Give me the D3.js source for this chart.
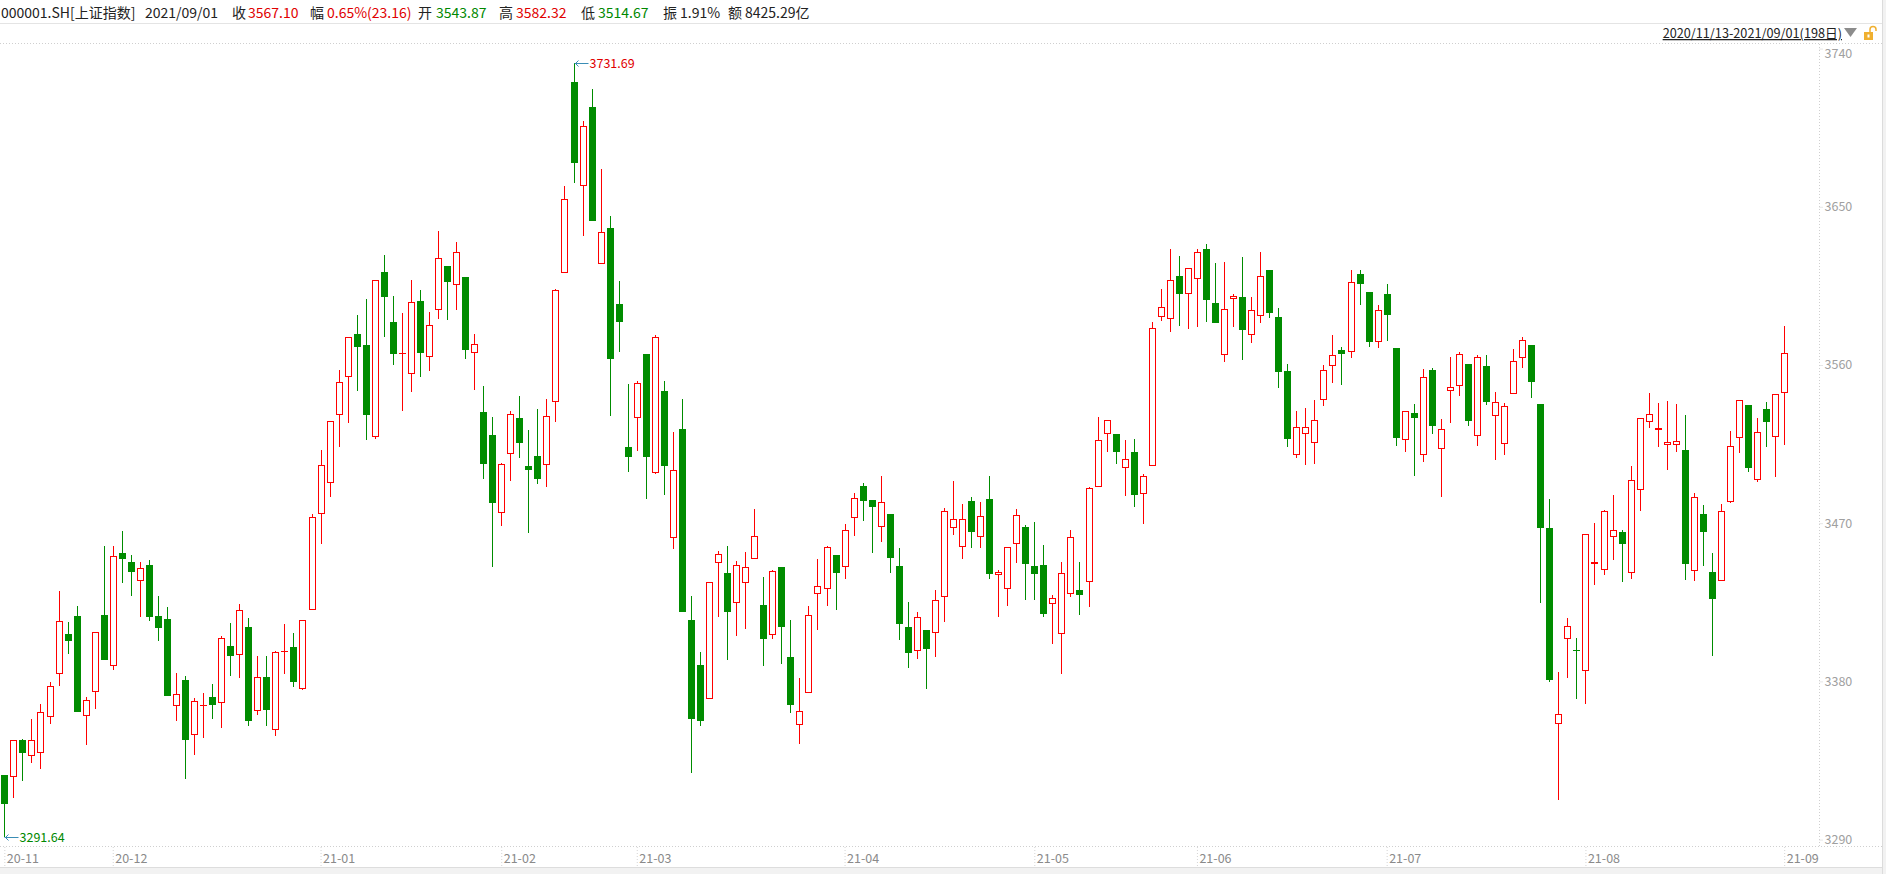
<!DOCTYPE html>
<html>
<head>
<meta charset="utf-8">
<script src="https://cdn.jsdelivr.net/npm/d3@7"></script>
<style>
  body { margin: 0; background: #fff; }
  svg { display: block; font-family: "Microsoft YaHei", "Noto Sans CJK SC", sans-serif; }
</style>
</head>
<body>
<div id="chart"></div>
<script>
// Daily candles, 2020/11/13 - 2021/09/01 (198 trading days)
// ================================
var openPrices = [
  3326.8, 3325.4, 3346.7, 3337.6, 3339.1, 3359.6, 3384.1, 3407.1, 3417.3, 3360.2,
  3373.8, 3417.9, 3389.0, 3453.2, 3448.1, 3437.0, 3446.3, 3417.3, 3415.6, 3365.9,
  3380.9, 3349.3, 3366.0, 3371.2, 3367.6, 3400.2, 3395.1, 3411.1, 3363.3, 3382.6,
  3352.5, 3397.0, 3399.8, 3375.8, 3420.8, 3475.1, 3492.7, 3531.3, 3553.4, 3577.8,
  3571.2, 3518.8, 3613.0, 3584.6, 3566.2, 3555.1, 3596.2, 3564.7, 3591.4, 3616.6,
  3605.6, 3610.0, 3567.1, 3533.4, 3520.2, 3476.0, 3509.5, 3529.9, 3502.5, 3508.2,
  3503.3, 3539.0, 3612.2, 3721.0, 3661.7, 3706.5, 3617.2, 3637.9, 3594.5, 3513.3,
  3530.1, 3566.0, 3498.8, 3545.4, 3461.8, 3523.7, 3414.9, 3389.1, 3369.8, 3447.2,
  3441.7, 3424.4, 3435.8, 3449.4, 3423.3, 3406.2, 3444.9, 3393.7, 3355.0, 3373.2,
  3429.5, 3432.4, 3451.7, 3444.9, 3472.8, 3491.2, 3483.2, 3467.6, 3475.2, 3445.6,
  3410.9, 3397.1, 3409.1, 3407.5, 3428.0, 3467.1, 3456.3, 3482.6, 3462.0, 3483.8,
  3440.4, 3432.4, 3458.0, 3467.7, 3445.7, 3446.2, 3423.9, 3406.8, 3429.6, 3431.8,
  3436.4, 3490.4, 3520.6, 3520.6, 3501.2, 3510.3, 3486.4, 3502.4, 3587.1, 3586.0,
  3610.4, 3600.2, 3608.7, 3626.0, 3595.3, 3565.5, 3597.4, 3598.7, 3576.9, 3587.7,
  3614.0, 3587.3, 3556.6, 3508.6, 3520.6, 3515.4, 3539.9, 3559.2, 3568.3, 3567.2,
  3611.8, 3601.5, 3572.9, 3600.4, 3569.7, 3517.1, 3532.7, 3508.6, 3557.1, 3512.0,
  3545.0, 3547.8, 3560.6, 3519.4, 3559.4, 3530.8, 3514.9, 3543.3, 3563.8, 3571.2,
  3537.8, 3467.3, 3355.8, 3403.9, 3397.9, 3385.7, 3446.6, 3443.2, 3462.0, 3464.8,
  3441.9, 3488.7, 3527.4, 3522.8, 3514.3, 3514.3, 3511.5, 3442.6, 3475.1, 3442.1,
  3436.9, 3482.1, 3518.3, 3537.1, 3494.4, 3534.8, 3518.9, 3543.87
];
var highPrices = [
  3326.8, 3346.7, 3347.3, 3358.6, 3367.2, 3379.5, 3431.5, 3413.9, 3423.0, 3371.2,
  3408.0, 3456.8, 3457.2, 3465.7, 3452.0, 3448.1, 3449.2, 3428.7, 3422.4, 3384.8,
  3383.3, 3370.4, 3373.5, 3378.6, 3405.9, 3413.3, 3424.2, 3416.2, 3394.7, 3394.7,
  3397.3, 3412.9, 3407.7, 3414.9, 3475.1, 3511.6, 3528.4, 3557.0, 3576.1, 3588.2,
  3597.7, 3608.4, 3622.3, 3599.0, 3589.3, 3608.4, 3602.9, 3589.9, 3636.0, 3616.6,
  3630.0, 3610.0, 3577.8, 3548.1, 3530.4, 3504.4, 3533.9, 3542.5, 3523.2, 3535.0,
  3540.9, 3603.0, 3662.0, 3731.69, 3699.0, 3716.9, 3671.7, 3644.9, 3607.6, 3549.4,
  3551.0, 3566.0, 3576.8, 3551.0, 3521.8, 3540.9, 3428.6, 3396.7, 3436.3, 3454.2,
  3457.0, 3448.5, 3453.6, 3478.1, 3439.4, 3443.4, 3444.9, 3414.9, 3381.9, 3422.9,
  3449.6, 3457.0, 3451.7, 3469.5, 3487.0, 3492.7, 3483.2, 3497.0, 3475.2, 3455.9,
  3425.2, 3419.5, 3409.1, 3432.0, 3478.6, 3493.8, 3481.0, 3484.9, 3482.1, 3496.9,
  3443.4, 3456.3, 3477.9, 3469.0, 3470.7, 3457.4, 3429.0, 3447.8, 3466.0, 3447.8,
  3490.4, 3530.4, 3528.5, 3520.6, 3517.1, 3517.7, 3498.0, 3584.3, 3603.0, 3626.0,
  3621.8, 3615.0, 3626.0, 3628.8, 3618.0, 3618.6, 3600.4, 3621.4, 3598.7, 3624.3,
  3614.0, 3592.4, 3560.6, 3533.8, 3535.5, 3540.1, 3560.0, 3577.1, 3570.2, 3614.0,
  3614.0, 3601.5, 3594.1, 3606.0, 3569.7, 3533.6, 3537.8, 3557.7, 3558.3, 3529.3,
  3564.5, 3567.4, 3560.6, 3565.5, 3565.7, 3544.6, 3538.2, 3569.1, 3575.9, 3571.2,
  3537.8, 3483.8, 3385.4, 3416.1, 3404.7, 3463.7, 3470.1, 3477.3, 3486.0, 3465.9,
  3502.5, 3529.7, 3544.1, 3538.4, 3539.5, 3537.8, 3531.6, 3487.2, 3480.4, 3452.9,
  3481.0, 3522.3, 3539.9, 3537.1, 3529.7, 3538.8, 3543.3, 3582.32
];
var lowPrices = [
  3291.64, 3313.5, 3323.5, 3333.8, 3330.4, 3356.0, 3377.6, 3395.7, 3362.3, 3343.8,
  3364.5, 3391.9, 3386.7, 3435.7, 3428.7, 3416.9, 3414.1, 3402.7, 3371.9, 3357.7,
  3324.7, 3338.3, 3348.0, 3358.6, 3353.7, 3382.8, 3382.0, 3354.6, 3360.8, 3354.6,
  3348.9, 3384.1, 3376.7, 3375.0, 3420.8, 3457.9, 3485.1, 3513.5, 3527.1, 3545.3,
  3517.5, 3518.0, 3576.0, 3559.8, 3533.9, 3544.7, 3553.2, 3556.6, 3586.1, 3585.5,
  3591.2, 3563.6, 3545.7, 3495.3, 3444.9, 3468.5, 3494.2, 3507.1, 3464.5, 3492.1,
  3490.7, 3527.4, 3612.2, 3663.3, 3633.6, 3642.2, 3617.2, 3530.7, 3567.4, 3499.3,
  3510.8, 3483.8, 3497.7, 3486.2, 3455.4, 3419.2, 3328.1, 3354.8, 3369.8, 3416.8,
  3392.2, 3406.0, 3410.0, 3449.4, 3389.0, 3404.3, 3390.1, 3362.2, 3344.6, 3373.2,
  3409.4, 3423.1, 3420.8, 3438.4, 3462.9, 3471.4, 3453.2, 3459.1, 3441.9, 3403.7,
  3387.8, 3393.0, 3375.5, 3394.1, 3414.0, 3463.5, 3449.8, 3456.1, 3456.1, 3438.5,
  3416.8, 3423.1, 3447.6, 3426.5, 3426.5, 3416.8, 3401.5, 3384.4, 3428.2, 3418.0,
  3422.5, 3490.4, 3510.7, 3503.9, 3485.7, 3479.4, 3469.7, 3502.4, 3585.2, 3579.0,
  3582.4, 3580.7, 3581.8, 3584.6, 3584.1, 3561.9, 3581.8, 3563.0, 3572.7, 3584.1,
  3586.9, 3547.1, 3513.6, 3507.3, 3503.3, 3503.9, 3536.9, 3549.9, 3548.8, 3564.2,
  3594.3, 3570.4, 3569.5, 3573.8, 3514.1, 3510.7, 3497.0, 3504.6, 3520.9, 3484.9,
  3527.2, 3542.5, 3525.5, 3514.1, 3537.2, 3506.1, 3509.0, 3543.3, 3558.5, 3541.4,
  3424.8, 3379.9, 3312.7, 3382.1, 3370.2, 3367.3, 3435.0, 3440.5, 3449.3, 3436.7,
  3438.5, 3477.1, 3524.0, 3513.5, 3500.5, 3510.7, 3437.9, 3437.3, 3445.9, 3394.7,
  3436.9, 3481.3, 3510.1, 3499.3, 3493.4, 3513.2, 3496.5, 3514.67
];
var closePrices = [
  3310.1, 3346.7, 3339.5, 3346.7, 3362.4, 3377.2, 3414.3, 3402.7, 3362.3, 3369.3,
  3408.0, 3391.9, 3451.5, 3449.4, 3442.0, 3444.4, 3416.4, 3410.1, 3371.9, 3372.9,
  3346.9, 3368.9, 3366.6, 3366.8, 3404.8, 3394.7, 3420.8, 3357.6, 3382.6, 3363.7,
  3396.8, 3397.5, 3379.5, 3414.9, 3473.4, 3502.9, 3528.4, 3550.6, 3576.1, 3570.2,
  3531.7, 3608.4, 3598.6, 3566.2, 3566.6, 3596.0, 3566.8, 3582.9, 3620.9, 3607.1,
  3624.3, 3568.5, 3572.2, 3503.9, 3481.6, 3503.6, 3532.3, 3515.9, 3500.4, 3495.3,
  3531.0, 3602.5, 3654.2, 3674.9, 3695.8, 3642.2, 3635.7, 3563.4, 3584.5, 3507.9,
  3549.9, 3507.4, 3575.7, 3502.3, 3500.1, 3419.7, 3358.8, 3357.7, 3436.3, 3452.3,
  3419.7, 3446.0, 3444.9, 3462.5, 3404.3, 3442.6, 3411.1, 3366.8, 3363.0, 3417.6,
  3434.5, 3456.3, 3441.9, 3465.9, 3484.1, 3482.8, 3479.4, 3481.9, 3450.4, 3412.8,
  3396.3, 3416.5, 3398.6, 3426.1, 3476.8, 3472.2, 3472.2, 3465.2, 3473.9, 3441.3,
  3442.1, 3456.3, 3474.5, 3447.0, 3441.3, 3418.6, 3427.3, 3441.5, 3462.0, 3429.4,
  3489.8, 3517.1, 3528.5, 3510.7, 3506.3, 3486.2, 3496.7, 3580.9, 3592.8, 3608.2,
  3600.6, 3615.0, 3624.1, 3597.2, 3584.1, 3591.7, 3599.1, 3580.1, 3591.1, 3610.4,
  3589.8, 3556.2, 3518.1, 3524.9, 3524.5, 3528.5, 3557.0, 3565.5, 3566.4, 3607.0,
  3606.3, 3573.3, 3591.2, 3588.6, 3518.7, 3533.6, 3530.0, 3553.0, 3525.5, 3523.4,
  3547.3, 3566.1, 3528.3, 3564.3, 3539.1, 3538.7, 3536.5, 3562.1, 3574.0, 3550.5,
  3467.5, 3381.0, 3361.3, 3411.3, 3397.1, 3463.7, 3447.7, 3476.7, 3465.9, 3458.4,
  3494.4, 3529.7, 3531.9, 3524.0, 3516.0, 3516.6, 3447.0, 3484.7, 3465.2, 3427.1,
  3476.8, 3513.7, 3539.9, 3501.6, 3521.7, 3527.8, 3543.3, 3567.10
];

var monthTickIndex = [0, 12, 35, 55, 70, 93, 114, 132, 153, 175, 197];
var monthTickLabels = ["20-11", "20-12", "21-01", "21-02", "21-03", "21-04", "21-05", "21-06", "21-07", "21-08", "21-09"];
var priceTicks = [3290, 3380, 3470, 3560, 3650, 3740];

// header line: text pieces and their colours
var headerText = ["000001.SH[上证指数]", "2021/09/01", "收", "3567.10", "幅", "0.65%(23.16)", "开", "3543.87", "高", "3582.32", "低", "3514.67", "振", "1.91%", "额", "8425.29亿"];
var headerColor = ["#222", "#222", "#222", "#e00000", "#222", "#e00000", "#222", "#008800", "#222", "#e00000", "#222", "#008800", "#222", "#222", "#222", "#222"];
var headerX = [1, 145, 232, 248, 310, 327, 418, 436, 499, 516, 581, 598, 663, 680, 728, 745];

var rangeText = "2020/11/13-2021/09/01(198日)";

// Set up the svg
// ================================
var svgWidth = 1886;
var svgHeight = 874;

var upColor = "#ff0000";
var downColor = "#008c00";

var svg = d3.select("#chart")
  .append("svg")
  .attr("width", svgWidth)
  .attr("height", svgHeight);

svg.append("rect")
  .attr("width", svgWidth)
  .attr("height", svgHeight)
  .attr("fill", "#fff");

// header
svg.selectAll(".head")
  .data(headerText)
  .enter()
  .append("text")
  .attr("x", (d, i) => headerX[i])
  .attr("y", 18)
  .attr("font-size", "14px")
  .attr("fill", (d, i) => headerColor[i])
  .text(d => d);

svg.append("line")
  .attr("x1", 0).attr("x2", svgWidth)
  .attr("y1", 23.5).attr("y2", 23.5)
  .attr("stroke", "#e4e4e4");

// range selector top right
svg.append("text")
  .attr("x", 1842)
  .attr("y", 38)
  .attr("text-anchor", "end")
  .attr("font-size", "12.7px")
  .attr("fill", "#222")
  .attr("text-decoration", "underline")
  .text(rangeText);

svg.append("path")
  .attr("d", "M1844,28 L1857,28 L1850.5,37 Z")
  .attr("fill", "#8c8c8c");

var lock = svg.append("g").attr("transform", "translate(1864,27)");
lock.append("rect").attr("x", 0).attr("y", 5).attr("width", 9).attr("height", 8).attr("fill", "#f0b030");
lock.append("rect").attr("x", 3.5).attr("y", 7.5).attr("width", 2).attr("height", 3).attr("fill", "#fff");
lock.append("path")
  .attr("d", "M6,5 L6,2.5 A3,3 0 0 1 12,2.5 L12,4")
  .attr("fill", "none")
  .attr("stroke", "#f0b030")
  .attr("stroke-width", 1.5);

// frame lines
svg.append("line")
  .attr("x1", 0).attr("x2", 1882)
  .attr("y1", 43.5).attr("y2", 43.5)
  .attr("stroke", "#cfcfcf")
  .attr("stroke-dasharray", "1,2");

svg.append("line")
  .attr("x1", 0).attr("x2", 1882)
  .attr("y1", 846.5).attr("y2", 846.5)
  .attr("stroke", "#cfcfcf")
  .attr("stroke-dasharray", "1,2");

svg.append("line")
  .attr("x1", 1819.5).attr("x2", 1819.5)
  .attr("y1", 44).attr("y2", 847)
  .attr("stroke", "#cfcfcf")
  .attr("stroke-dasharray", "1,2");

svg.append("rect")
  .attr("x", 0).attr("y", 868)
  .attr("width", svgWidth).attr("height", 6)
  .attr("fill", "#f2f2f2");
svg.append("line")
  .attr("x1", 0).attr("x2", svgWidth)
  .attr("y1", 867.5).attr("y2", 867.5)
  .attr("stroke", "#dddddd");

svg.append("rect")
  .attr("x", 1883).attr("y", 0)
  .attr("width", 3).attr("height", svgHeight)
  .attr("fill", "#f2f2f2");
svg.append("line")
  .attr("x1", 1882.5).attr("x2", 1882.5)
  .attr("y1", 0).attr("y2", svgHeight)
  .attr("stroke", "#dcdcdc");

// Scales
// ================================
var xScale = d3.scaleLinear()
  .domain([0, openPrices.length - 1])
  .range([4.33, 1784.2]);

var yScale = d3.scaleLinear()
  .domain([3291.64, 3731.69])
  .range([836.7, 63.2]);

// price axis on the right
var rightAxis = d3.axisRight(yScale)
  .tickValues(priceTicks)
  .tickSize(3)
  .tickPadding(2)
  .tickFormat(d3.format("d"));

var priceAxis = svg.append("g")
  .attr("transform", "translate(1819.5,0)")
  .call(rightAxis);

priceAxis.select(".domain").remove();
priceAxis.selectAll(".tick line")
  .attr("stroke", "#cfcfcf")
  .attr("stroke-dasharray", "1,1");
priceAxis.selectAll(".tick text")
  .attr("font-family", "'Microsoft YaHei', 'Noto Sans CJK SC', sans-serif")
  .attr("font-size", "12.5px")
  .attr("fill", "#a0a0a0")
  .attr("dy", (d) => {
    var off = 53 - yScale(d);
    return off > 0 ? (off / 12.5 + 0.32) + "em" : "0.32em";
  });

// month axis at the bottom
var bottomAxis = d3.axisBottom(xScale)
  .tickValues(monthTickIndex)
  .tickSize(20)
  .tickPadding(0)
  .tickFormat((d, i) => monthTickLabels[i]);

var dateAxis = svg.append("g")
  .attr("transform", "translate(0,847)")
  .call(bottomAxis);

dateAxis.select(".domain").remove();
dateAxis.selectAll(".tick line")
  .attr("stroke", "#d4d4d4")
  .attr("stroke-dasharray", "1,2");
dateAxis.selectAll(".tick text")
  .attr("font-family", "'Microsoft YaHei', 'Noto Sans CJK SC', sans-serif")
  .attr("font-size", "12.5px")
  .attr("fill", "#8a8a8a")
  .attr("text-anchor", "start")
  .attr("x", 2)
  .attr("y", 12)
  .attr("dy", "0.32em");

// Candles
// ================================
var chartGroup = svg.append("g").attr("shape-rendering", "crispEdges");

var candle = chartGroup.selectAll(".candle")
  .data(d3.range(openPrices.length))
  .enter()
  .append("g")
  .attr("class", "candle");

function isUp(i) { return closePrices[i] >= openPrices[i]; }
function cx(i) { return Math.round(xScale(i)); }
function bodyTop(i) { return Math.round(yScale(Math.max(openPrices[i], closePrices[i]))); }
function bodyBot(i) { return Math.round(yScale(Math.min(openPrices[i], closePrices[i]))); }

candle.append("line")
  .attr("x1", i => cx(i) + 0.5)
  .attr("x2", i => cx(i) + 0.5)
  .attr("y1", i => Math.round(yScale(highPrices[i])))
  .attr("y2", i => Math.round(yScale(lowPrices[i])))
  .attr("stroke", i => isUp(i) ? upColor : downColor)
  .attr("stroke-width", 1);

candle.filter(i => !isUp(i))
  .append("rect")
  .attr("x", i => cx(i) - 3)
  .attr("width", 7)
  .attr("y", i => bodyTop(i))
  .attr("height", i => Math.max(1, bodyBot(i) - bodyTop(i)))
  .attr("fill", downColor);

candle.filter(i => isUp(i) && bodyBot(i) - bodyTop(i) >= 2)
  .append("rect")
  .attr("x", i => cx(i) - 2.5)
  .attr("width", 6)
  .attr("y", i => bodyTop(i) + 0.5)
  .attr("height", i => bodyBot(i) - bodyTop(i) - 1)
  .attr("fill", "#fff")
  .attr("stroke", upColor)
  .attr("stroke-width", 1);

candle.filter(i => isUp(i) && bodyBot(i) - bodyTop(i) < 2)
  .append("line")
  .attr("x1", i => cx(i) - 3)
  .attr("x2", i => cx(i) + 4)
  .attr("y1", i => bodyTop(i) + 0.5)
  .attr("y2", i => bodyTop(i) + 0.5)
  .attr("stroke", upColor);

// highest / lowest markers
// ================================
var maxIdx = d3.maxIndex(highPrices);
var minIdx = d3.minIndex(lowPrices);

function marker(idx, value, color) {
  var x0 = cx(idx) + 0.5;
  var y0 = Math.round(yScale(value)) + 0.5;
  var g = svg.append("g");
  g.append("line")
    .attr("x1", x0).attr("x2", x0 + 14)
    .attr("y1", y0).attr("y2", y0)
    .attr("stroke", "#3a8db5");
  g.append("path")
    .attr("d", `M${x0 + 4},${y0 - 3} L${x0 + 1},${y0} L${x0 + 4},${y0 + 3}`)
    .attr("fill", "none")
    .attr("stroke", "#3a8db5");
  g.append("text")
    .attr("x", x0 + 15)
    .attr("y", y0)
    .attr("dy", "0.35em")
    .attr("font-size", "12.5px")
    .attr("fill", color)
    .text(value.toFixed(2));
}

marker(maxIdx, highPrices[maxIdx], "#e00000");
marker(minIdx, lowPrices[minIdx], "#008800");
</script>
</body>
</html>
